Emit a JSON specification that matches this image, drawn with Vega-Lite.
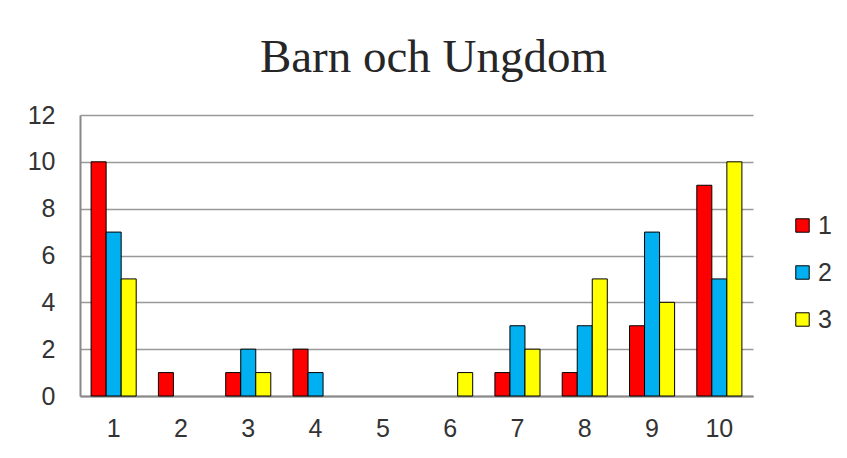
{
  "$schema": "https://vega.github.io/schema/vega-lite/v6.json",
  "autosize": {"type": "none"},
  "width": 673,
  "height": 281,
  "padding": {"left": 80, "top": 115, "right": 94, "bottom": 62},
  "background": "white",
  "title": {
    "text": "Barn och Ungdom",
    "font": "Liberation Serif",
    "fontSize": 47,
    "fontWeight": "normal",
    "color": "#262626",
    "anchor": "middle",
    "frame": "group",
    "dx": 17,
    "offset": 21
  },
  "data": {
    "values": [
      {"kategori": "1", "serie": "1", "varde": 10},
      {"kategori": "1", "serie": "2", "varde": 7},
      {"kategori": "1", "serie": "3", "varde": 5},
      {"kategori": "2", "serie": "1", "varde": 1},
      {"kategori": "2", "serie": "2", "varde": 0},
      {"kategori": "2", "serie": "3", "varde": 0},
      {"kategori": "3", "serie": "1", "varde": 1},
      {"kategori": "3", "serie": "2", "varde": 2},
      {"kategori": "3", "serie": "3", "varde": 1},
      {"kategori": "4", "serie": "1", "varde": 2},
      {"kategori": "4", "serie": "2", "varde": 1},
      {"kategori": "4", "serie": "3", "varde": 0},
      {"kategori": "5", "serie": "1", "varde": 0},
      {"kategori": "5", "serie": "2", "varde": 0},
      {"kategori": "5", "serie": "3", "varde": 0},
      {"kategori": "6", "serie": "1", "varde": 0},
      {"kategori": "6", "serie": "2", "varde": 0},
      {"kategori": "6", "serie": "3", "varde": 1},
      {"kategori": "7", "serie": "1", "varde": 1},
      {"kategori": "7", "serie": "2", "varde": 3},
      {"kategori": "7", "serie": "3", "varde": 2},
      {"kategori": "8", "serie": "1", "varde": 1},
      {"kategori": "8", "serie": "2", "varde": 3},
      {"kategori": "8", "serie": "3", "varde": 5},
      {"kategori": "9", "serie": "1", "varde": 3},
      {"kategori": "9", "serie": "2", "varde": 7},
      {"kategori": "9", "serie": "3", "varde": 4},
      {"kategori": "10", "serie": "1", "varde": 9},
      {"kategori": "10", "serie": "2", "varde": 5},
      {"kategori": "10", "serie": "3", "varde": 10}
    ]
  },
  "transform": [{"filter": "datum.varde > 0"}],
  "mark": {"type": "bar", "stroke": "#000000", "strokeWidth": 1},
  "encoding": {
    "x": {
      "field": "kategori",
      "type": "ordinal",
      "sort": ["1","2","3","4","5","6","7","8","9","10"],
      "scale": {"domain": ["1","2","3","4","5","6","7","8","9","10"], "paddingInner": 0.33, "paddingOuter": 0.165},
      "axis": {
        "title": null,
        "labelAngle": 0,
        "labelFont": "Liberation Sans",
        "labelFontSize": 25,
        "labelColor": "#333333",
        "labelPadding": 20,
        "ticks": false,
        "domainColor": "#888888",
        "domainWidth": 2
      }
    },
    "xOffset": {"field": "serie", "type": "nominal", "scale": {"domain": ["1","2","3"]}},
    "y": {
      "field": "varde",
      "type": "quantitative",
      "scale": {"domain": [0, 12], "nice": false},
      "axis": {
        "title": null,
        "values": [0, 2, 4, 6, 8, 10, 12],
        "labelFont": "Liberation Sans",
        "labelFontSize": 25,
        "labelColor": "#333333",
        "labelPadding": 25,
        "ticks": false,
        "domainColor": "#888888",
        "domainWidth": 2,
        "grid": true,
        "gridColor": "#999999",
        "gridWidth": 1.5
      }
    },
    "color": {
      "field": "serie",
      "type": "nominal",
      "scale": {"domain": ["1","2","3"], "range": ["#FF0000", "#00B0F0", "#FFFF00"]},
      "legend": {
        "title": null,
        "orient": "none",
        "legendX": 710,
        "legendY": 98,
        "symbolType": "square",
        "symbolSize": 180,
        "symbolStrokeColor": "#000000",
        "symbolStrokeWidth": 1,
        "labelFont": "Liberation Sans",
        "labelFontSize": 25,
        "labelColor": "#333333",
        "rowPadding": 21,
        "labelOffset": 3
      }
    }
  },
  "config": {
    "view": {"stroke": null},
    "axis": {"gridDash": []}
  }
}
